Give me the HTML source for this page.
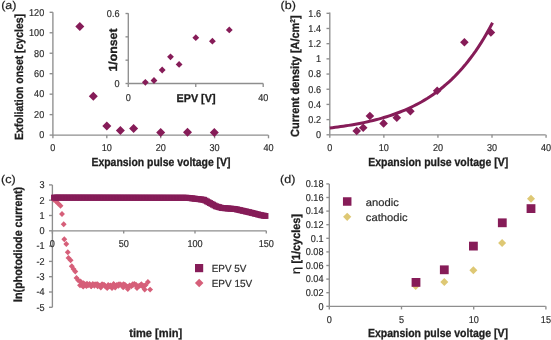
<!DOCTYPE html>
<html><head><meta charset="utf-8"><style>
html,body{margin:0;padding:0;background:#fff;}
svg{display:block;filter:blur(0.3px);font-family:"Liberation Sans",sans-serif;}
</style></head><body>
<svg width="551" height="340" viewBox="0 0 551 340" text-rendering="geometricPrecision">
<rect width="551" height="340" fill="#fff"/>
<text transform="translate(1.20,8.60) scale(1.1,1)" text-anchor="start" font-size="11.4" fill="#1e1e1e" font-weight="normal" stroke="#1e1e1e" stroke-width="0.2">(a)</text>
<line x1="52.90" y1="12.30" x2="52.90" y2="135.10" stroke="#8e8e8e" stroke-width="1.35"/>
<line x1="52.90" y1="135.10" x2="268.40" y2="135.10" stroke="#8e8e8e" stroke-width="1.35"/>
<line x1="49.60" y1="135.10" x2="52.90" y2="135.10" stroke="#8e8e8e" stroke-width="1.35"/>
<text transform="translate(44.20,138.40) scale(0.91,1)" text-anchor="end" font-size="10.0" fill="#2e2e2e" font-weight="normal" stroke="#2e2e2e" stroke-width="0.2">0</text>
<line x1="49.60" y1="114.63" x2="52.90" y2="114.63" stroke="#8e8e8e" stroke-width="1.35"/>
<text transform="translate(44.20,117.93) scale(0.91,1)" text-anchor="end" font-size="10.0" fill="#2e2e2e" font-weight="normal" stroke="#2e2e2e" stroke-width="0.2">20</text>
<line x1="49.60" y1="94.17" x2="52.90" y2="94.17" stroke="#8e8e8e" stroke-width="1.35"/>
<text transform="translate(44.20,97.47) scale(0.91,1)" text-anchor="end" font-size="10.0" fill="#2e2e2e" font-weight="normal" stroke="#2e2e2e" stroke-width="0.2">40</text>
<line x1="49.60" y1="73.70" x2="52.90" y2="73.70" stroke="#8e8e8e" stroke-width="1.35"/>
<text transform="translate(44.20,77.00) scale(0.91,1)" text-anchor="end" font-size="10.0" fill="#2e2e2e" font-weight="normal" stroke="#2e2e2e" stroke-width="0.2">60</text>
<line x1="49.60" y1="53.24" x2="52.90" y2="53.24" stroke="#8e8e8e" stroke-width="1.35"/>
<text transform="translate(44.20,56.54) scale(0.91,1)" text-anchor="end" font-size="10.0" fill="#2e2e2e" font-weight="normal" stroke="#2e2e2e" stroke-width="0.2">80</text>
<line x1="49.60" y1="32.77" x2="52.90" y2="32.77" stroke="#8e8e8e" stroke-width="1.35"/>
<text transform="translate(44.20,36.07) scale(0.91,1)" text-anchor="end" font-size="10.0" fill="#2e2e2e" font-weight="normal" stroke="#2e2e2e" stroke-width="0.2">100</text>
<line x1="49.60" y1="12.30" x2="52.90" y2="12.30" stroke="#8e8e8e" stroke-width="1.35"/>
<text transform="translate(44.20,15.60) scale(0.91,1)" text-anchor="end" font-size="10.0" fill="#2e2e2e" font-weight="normal" stroke="#2e2e2e" stroke-width="0.2">120</text>
<line x1="52.90" y1="135.10" x2="52.90" y2="138.30" stroke="#8e8e8e" stroke-width="1.35"/>
<text transform="translate(52.90,151.30) scale(0.91,1)" text-anchor="middle" font-size="10.0" fill="#2e2e2e" font-weight="normal" stroke="#2e2e2e" stroke-width="0.2">0</text>
<line x1="106.80" y1="135.10" x2="106.80" y2="138.30" stroke="#8e8e8e" stroke-width="1.35"/>
<text transform="translate(106.80,151.30) scale(0.91,1)" text-anchor="middle" font-size="10.0" fill="#2e2e2e" font-weight="normal" stroke="#2e2e2e" stroke-width="0.2">10</text>
<line x1="160.70" y1="135.10" x2="160.70" y2="138.30" stroke="#8e8e8e" stroke-width="1.35"/>
<text transform="translate(160.70,151.30) scale(0.91,1)" text-anchor="middle" font-size="10.0" fill="#2e2e2e" font-weight="normal" stroke="#2e2e2e" stroke-width="0.2">20</text>
<line x1="214.60" y1="135.10" x2="214.60" y2="138.30" stroke="#8e8e8e" stroke-width="1.35"/>
<text transform="translate(214.60,151.30) scale(0.91,1)" text-anchor="middle" font-size="10.0" fill="#2e2e2e" font-weight="normal" stroke="#2e2e2e" stroke-width="0.2">30</text>
<line x1="268.50" y1="135.10" x2="268.50" y2="138.30" stroke="#8e8e8e" stroke-width="1.35"/>
<text transform="translate(268.50,151.30) scale(0.91,1)" text-anchor="middle" font-size="10.0" fill="#2e2e2e" font-weight="normal" stroke="#2e2e2e" stroke-width="0.2">40</text>
<text x="161.00" y="165.60" text-anchor="middle" font-size="11.8" fill="#1e1e1e" font-weight="bold" textLength="139" lengthAdjust="spacingAndGlyphs" stroke="#1e1e1e" stroke-width="0.3">Expansion pulse voltage [V]</text>
<text transform="translate(22.80,77.00) rotate(-90)" x="0" y="0" text-anchor="middle" font-size="11.8" fill="#1e1e1e" font-weight="bold" stroke="#1e1e1e" stroke-width="0.3" textLength="126" lengthAdjust="spacingAndGlyphs">Exfoliation onset [cycles]</text>
<path d="M79.80 21.90L84.30 26.40L79.80 30.90L75.30 26.40Z" fill="#861c58"/>
<path d="M93.30 91.80L97.80 96.30L93.30 100.80L88.80 96.30Z" fill="#861c58"/>
<path d="M106.80 121.40L111.30 125.90L106.80 130.40L102.30 125.90Z" fill="#861c58"/>
<path d="M120.40 126.00L124.90 130.50L120.40 135.00L115.90 130.50Z" fill="#861c58"/>
<path d="M133.60 124.00L138.10 128.50L133.60 133.00L129.10 128.50Z" fill="#861c58"/>
<path d="M160.70 128.10L165.20 132.60L160.70 137.10L156.20 132.60Z" fill="#861c58"/>
<path d="M187.50 127.80L192.00 132.30L187.50 136.80L183.00 132.30Z" fill="#861c58"/>
<path d="M214.30 128.10L218.80 132.60L214.30 137.10L209.80 132.60Z" fill="#861c58"/>
<line x1="128.30" y1="13.30" x2="128.30" y2="83.50" stroke="#8e8e8e" stroke-width="1.35"/>
<line x1="128.30" y1="83.50" x2="263.20" y2="83.50" stroke="#8e8e8e" stroke-width="1.35"/>
<line x1="125.50" y1="83.50" x2="128.30" y2="83.50" stroke="#8e8e8e" stroke-width="1.35"/>
<line x1="125.50" y1="60.17" x2="128.30" y2="60.17" stroke="#8e8e8e" stroke-width="1.35"/>
<line x1="125.50" y1="36.84" x2="128.30" y2="36.84" stroke="#8e8e8e" stroke-width="1.35"/>
<line x1="125.50" y1="13.51" x2="128.30" y2="13.51" stroke="#8e8e8e" stroke-width="1.35"/>
<text transform="translate(119.50,86.80) scale(0.91,1)" text-anchor="end" font-size="10.0" fill="#2e2e2e" font-weight="normal" stroke="#2e2e2e" stroke-width="0.2">0</text>
<text transform="translate(119.50,16.80) scale(0.91,1)" text-anchor="end" font-size="10.0" fill="#2e2e2e" font-weight="normal" stroke="#2e2e2e" stroke-width="0.2">0.6</text>
<line x1="128.30" y1="83.50" x2="128.30" y2="87.00" stroke="#8e8e8e" stroke-width="1.35"/>
<line x1="195.75" y1="83.50" x2="195.75" y2="87.00" stroke="#8e8e8e" stroke-width="1.35"/>
<line x1="263.20" y1="83.50" x2="263.20" y2="87.00" stroke="#8e8e8e" stroke-width="1.35"/>
<text transform="translate(128.30,100.50) scale(0.91,1)" text-anchor="middle" font-size="10.0" fill="#2e2e2e" font-weight="normal" stroke="#2e2e2e" stroke-width="0.2">0</text>
<text transform="translate(263.20,100.50) scale(0.91,1)" text-anchor="middle" font-size="10.0" fill="#2e2e2e" font-weight="normal" stroke="#2e2e2e" stroke-width="0.2">40</text>
<text x="196.00" y="102.00" text-anchor="middle" font-size="11.2" fill="#1e1e1e" font-weight="bold" textLength="39" lengthAdjust="spacingAndGlyphs" stroke="#1e1e1e" stroke-width="0.3">EPV [V]</text>
<text transform="translate(117.30,50.00) rotate(-90)" x="0" y="0" text-anchor="middle" font-size="11.8" fill="#1e1e1e" font-weight="bold" stroke="#1e1e1e" stroke-width="0.3" textLength="43" lengthAdjust="spacingAndGlyphs">1/onset</text>
<path d="M145.35 78.90L148.75 82.30L145.35 85.70L141.95 82.30Z" fill="#861c58"/>
<path d="M154.00 77.10L157.40 80.50L154.00 83.90L150.60 80.50Z" fill="#861c58"/>
<path d="M162.20 66.60L165.60 70.00L162.20 73.40L158.80 70.00Z" fill="#861c58"/>
<path d="M170.50 53.40L173.90 56.80L170.50 60.20L167.10 56.80Z" fill="#861c58"/>
<path d="M179.10 61.00L182.50 64.40L179.10 67.80L175.70 64.40Z" fill="#861c58"/>
<path d="M195.80 34.30L199.20 37.70L195.80 41.10L192.40 37.70Z" fill="#861c58"/>
<path d="M212.40 37.80L215.80 41.20L212.40 44.60L209.00 41.20Z" fill="#861c58"/>
<path d="M229.30 26.50L232.70 29.90L229.30 33.30L225.90 29.90Z" fill="#861c58"/>
<text transform="translate(280.50,9.20) scale(1.1,1)" text-anchor="start" font-size="11.4" fill="#1e1e1e" font-weight="normal" stroke="#1e1e1e" stroke-width="0.2">(b)</text>
<line x1="329.80" y1="12.50" x2="329.80" y2="134.80" stroke="#8e8e8e" stroke-width="1.35"/>
<line x1="329.80" y1="134.80" x2="545.70" y2="134.80" stroke="#8e8e8e" stroke-width="1.35"/>
<line x1="326.50" y1="134.80" x2="329.80" y2="134.80" stroke="#8e8e8e" stroke-width="1.35"/>
<text transform="translate(321.00,138.10) scale(0.91,1)" text-anchor="end" font-size="10.0" fill="#2e2e2e" font-weight="normal" stroke="#2e2e2e" stroke-width="0.2">0</text>
<line x1="326.50" y1="119.61" x2="329.80" y2="119.61" stroke="#8e8e8e" stroke-width="1.35"/>
<text transform="translate(321.00,122.91) scale(0.91,1)" text-anchor="end" font-size="10.0" fill="#2e2e2e" font-weight="normal" stroke="#2e2e2e" stroke-width="0.2">0.2</text>
<line x1="326.50" y1="104.42" x2="329.80" y2="104.42" stroke="#8e8e8e" stroke-width="1.35"/>
<text transform="translate(321.00,107.72) scale(0.91,1)" text-anchor="end" font-size="10.0" fill="#2e2e2e" font-weight="normal" stroke="#2e2e2e" stroke-width="0.2">0.4</text>
<line x1="326.50" y1="89.24" x2="329.80" y2="89.24" stroke="#8e8e8e" stroke-width="1.35"/>
<text transform="translate(321.00,92.54) scale(0.91,1)" text-anchor="end" font-size="10.0" fill="#2e2e2e" font-weight="normal" stroke="#2e2e2e" stroke-width="0.2">0.6</text>
<line x1="326.50" y1="74.05" x2="329.80" y2="74.05" stroke="#8e8e8e" stroke-width="1.35"/>
<text transform="translate(321.00,77.35) scale(0.91,1)" text-anchor="end" font-size="10.0" fill="#2e2e2e" font-weight="normal" stroke="#2e2e2e" stroke-width="0.2">0.8</text>
<line x1="326.50" y1="58.86" x2="329.80" y2="58.86" stroke="#8e8e8e" stroke-width="1.35"/>
<text transform="translate(321.00,62.16) scale(0.91,1)" text-anchor="end" font-size="10.0" fill="#2e2e2e" font-weight="normal" stroke="#2e2e2e" stroke-width="0.2">1</text>
<line x1="326.50" y1="43.67" x2="329.80" y2="43.67" stroke="#8e8e8e" stroke-width="1.35"/>
<text transform="translate(321.00,46.97) scale(0.91,1)" text-anchor="end" font-size="10.0" fill="#2e2e2e" font-weight="normal" stroke="#2e2e2e" stroke-width="0.2">1.2</text>
<line x1="326.50" y1="28.48" x2="329.80" y2="28.48" stroke="#8e8e8e" stroke-width="1.35"/>
<text transform="translate(321.00,31.78) scale(0.91,1)" text-anchor="end" font-size="10.0" fill="#2e2e2e" font-weight="normal" stroke="#2e2e2e" stroke-width="0.2">1.4</text>
<line x1="326.50" y1="13.30" x2="329.80" y2="13.30" stroke="#8e8e8e" stroke-width="1.35"/>
<text transform="translate(321.00,16.60) scale(0.91,1)" text-anchor="end" font-size="10.0" fill="#2e2e2e" font-weight="normal" stroke="#2e2e2e" stroke-width="0.2">1.6</text>
<line x1="329.80" y1="134.80" x2="329.80" y2="137.70" stroke="#8e8e8e" stroke-width="1.35"/>
<text transform="translate(329.80,151.30) scale(0.91,1)" text-anchor="middle" font-size="10.0" fill="#2e2e2e" font-weight="normal" stroke="#2e2e2e" stroke-width="0.2">0</text>
<line x1="383.87" y1="134.80" x2="383.87" y2="137.70" stroke="#8e8e8e" stroke-width="1.35"/>
<text transform="translate(383.87,151.30) scale(0.91,1)" text-anchor="middle" font-size="10.0" fill="#2e2e2e" font-weight="normal" stroke="#2e2e2e" stroke-width="0.2">10</text>
<line x1="437.94" y1="134.80" x2="437.94" y2="137.70" stroke="#8e8e8e" stroke-width="1.35"/>
<text transform="translate(437.94,151.30) scale(0.91,1)" text-anchor="middle" font-size="10.0" fill="#2e2e2e" font-weight="normal" stroke="#2e2e2e" stroke-width="0.2">20</text>
<line x1="492.01" y1="134.80" x2="492.01" y2="137.70" stroke="#8e8e8e" stroke-width="1.35"/>
<text transform="translate(492.01,151.30) scale(0.91,1)" text-anchor="middle" font-size="10.0" fill="#2e2e2e" font-weight="normal" stroke="#2e2e2e" stroke-width="0.2">30</text>
<line x1="546.08" y1="134.80" x2="546.08" y2="137.70" stroke="#8e8e8e" stroke-width="1.35"/>
<text transform="translate(546.08,151.30) scale(0.91,1)" text-anchor="middle" font-size="10.0" fill="#2e2e2e" font-weight="normal" stroke="#2e2e2e" stroke-width="0.2">40</text>
<text x="438.20" y="166.10" text-anchor="middle" font-size="11.8" fill="#1e1e1e" font-weight="bold" textLength="140" lengthAdjust="spacingAndGlyphs" stroke="#1e1e1e" stroke-width="0.3">Expansion pulse voltage [V]</text>
<text transform="translate(298.90,76.20) rotate(-90)" x="0" y="0" text-anchor="middle" font-size="11.8" fill="#1e1e1e" font-weight="bold" stroke="#1e1e1e" stroke-width="0.3" textLength="121.5" lengthAdjust="spacingAndGlyphs">Current density [A/cm<tspan font-size="7" dy="-4">2</tspan><tspan dy="4">]</tspan></text>
<polyline points="329.80,128.00 332.50,127.68 335.21,127.34 337.91,126.98 340.61,126.61 343.32,126.22 346.02,125.81 348.72,125.38 351.43,124.93 354.13,124.46 356.84,123.97 359.54,123.45 362.24,122.91 364.95,122.35 367.65,121.75 370.35,121.13 373.06,120.48 375.76,119.80 378.46,119.08 381.17,118.33 383.87,117.55 386.57,116.73 389.28,115.86 391.98,114.96 394.68,114.02 397.39,113.03 400.09,111.99 402.79,110.90 405.50,109.76 408.20,108.57 410.91,107.32 413.61,106.01 416.31,104.64 419.02,103.20 421.72,101.70 424.42,100.12 427.13,98.47 429.83,96.74 432.53,94.92 435.24,93.02 437.94,91.03 440.64,88.95 443.35,86.76 446.05,84.47 448.75,82.07 451.46,79.56 454.16,76.93 456.86,74.17 459.57,71.28 462.27,68.26 464.98,65.08 467.68,61.76 470.38,58.28 473.09,54.64 475.79,50.82 478.49,46.81 481.20,42.62 483.90,38.23 486.60,33.63 489.31,28.81 492.01,23.76 492.55,22.72" fill="none" stroke="#861c58" stroke-width="3"/>
<path d="M356.70 126.70L361.00 131.00L356.70 135.30L352.40 131.00Z" fill="#861c58"/>
<path d="M363.20 123.40L367.50 127.70L363.20 132.00L358.90 127.70Z" fill="#861c58"/>
<path d="M369.90 111.70L374.20 116.00L369.90 120.30L365.60 116.00Z" fill="#861c58"/>
<path d="M383.60 119.10L387.90 123.40L383.60 127.70L379.30 123.40Z" fill="#861c58"/>
<path d="M396.80 113.50L401.10 117.80L396.80 122.10L392.50 117.80Z" fill="#861c58"/>
<path d="M410.40 106.90L414.70 111.20L410.40 115.50L406.10 111.20Z" fill="#861c58"/>
<path d="M437.20 86.40L441.50 90.70L437.20 95.00L432.90 90.70Z" fill="#861c58"/>
<path d="M464.40 38.00L468.70 42.30L464.40 46.60L460.10 42.30Z" fill="#861c58"/>
<path d="M490.90 28.20L495.20 32.50L490.90 36.80L486.60 32.50Z" fill="#861c58"/>
<text transform="translate(1.00,183.00) scale(1.1,1)" text-anchor="start" font-size="11.4" fill="#1e1e1e" font-weight="normal" stroke="#1e1e1e" stroke-width="0.2">(c)</text>
<line x1="52.40" y1="185.00" x2="52.40" y2="307.30" stroke="#8e8e8e" stroke-width="1.35"/>
<line x1="52.40" y1="230.80" x2="266.30" y2="230.80" stroke="#8e8e8e" stroke-width="1.35"/>
<line x1="49.00" y1="184.90" x2="52.40" y2="184.90" stroke="#8e8e8e" stroke-width="1.35"/>
<text transform="translate(44.50,188.20) scale(0.91,1)" text-anchor="end" font-size="10.0" fill="#2e2e2e" font-weight="normal" stroke="#2e2e2e" stroke-width="0.2">3</text>
<line x1="49.00" y1="200.20" x2="52.40" y2="200.20" stroke="#8e8e8e" stroke-width="1.35"/>
<text transform="translate(44.50,203.50) scale(0.91,1)" text-anchor="end" font-size="10.0" fill="#2e2e2e" font-weight="normal" stroke="#2e2e2e" stroke-width="0.2">2</text>
<line x1="49.00" y1="215.50" x2="52.40" y2="215.50" stroke="#8e8e8e" stroke-width="1.35"/>
<text transform="translate(44.50,218.80) scale(0.91,1)" text-anchor="end" font-size="10.0" fill="#2e2e2e" font-weight="normal" stroke="#2e2e2e" stroke-width="0.2">1</text>
<line x1="49.00" y1="230.80" x2="52.40" y2="230.80" stroke="#8e8e8e" stroke-width="1.35"/>
<text transform="translate(44.50,234.10) scale(0.91,1)" text-anchor="end" font-size="10.0" fill="#2e2e2e" font-weight="normal" stroke="#2e2e2e" stroke-width="0.2">0</text>
<line x1="49.00" y1="246.10" x2="52.40" y2="246.10" stroke="#8e8e8e" stroke-width="1.35"/>
<text transform="translate(44.50,249.40) scale(0.91,1)" text-anchor="end" font-size="10.0" fill="#2e2e2e" font-weight="normal" stroke="#2e2e2e" stroke-width="0.2">-1</text>
<line x1="49.00" y1="261.40" x2="52.40" y2="261.40" stroke="#8e8e8e" stroke-width="1.35"/>
<text transform="translate(44.50,264.70) scale(0.91,1)" text-anchor="end" font-size="10.0" fill="#2e2e2e" font-weight="normal" stroke="#2e2e2e" stroke-width="0.2">-2</text>
<line x1="49.00" y1="276.70" x2="52.40" y2="276.70" stroke="#8e8e8e" stroke-width="1.35"/>
<text transform="translate(44.50,280.00) scale(0.91,1)" text-anchor="end" font-size="10.0" fill="#2e2e2e" font-weight="normal" stroke="#2e2e2e" stroke-width="0.2">-3</text>
<line x1="49.00" y1="292.00" x2="52.40" y2="292.00" stroke="#8e8e8e" stroke-width="1.35"/>
<text transform="translate(44.50,295.30) scale(0.91,1)" text-anchor="end" font-size="10.0" fill="#2e2e2e" font-weight="normal" stroke="#2e2e2e" stroke-width="0.2">-4</text>
<line x1="49.00" y1="307.30" x2="52.40" y2="307.30" stroke="#8e8e8e" stroke-width="1.35"/>
<text transform="translate(44.50,310.60) scale(0.91,1)" text-anchor="end" font-size="10.0" fill="#2e2e2e" font-weight="normal" stroke="#2e2e2e" stroke-width="0.2">-5</text>
<line x1="52.40" y1="230.80" x2="52.40" y2="233.60" stroke="#8e8e8e" stroke-width="1.35"/>
<text transform="translate(52.40,247.00) scale(0.91,1)" text-anchor="middle" font-size="10.0" fill="#2e2e2e" font-weight="normal" stroke="#2e2e2e" stroke-width="0.2">0</text>
<line x1="123.70" y1="230.80" x2="123.70" y2="233.60" stroke="#8e8e8e" stroke-width="1.35"/>
<text transform="translate(123.70,247.00) scale(0.91,1)" text-anchor="middle" font-size="10.0" fill="#2e2e2e" font-weight="normal" stroke="#2e2e2e" stroke-width="0.2">50</text>
<line x1="195.00" y1="230.80" x2="195.00" y2="233.60" stroke="#8e8e8e" stroke-width="1.35"/>
<text transform="translate(195.00,247.00) scale(0.91,1)" text-anchor="middle" font-size="10.0" fill="#2e2e2e" font-weight="normal" stroke="#2e2e2e" stroke-width="0.2">100</text>
<line x1="266.30" y1="230.80" x2="266.30" y2="233.60" stroke="#8e8e8e" stroke-width="1.35"/>
<text transform="translate(266.30,247.00) scale(0.91,1)" text-anchor="middle" font-size="10.0" fill="#2e2e2e" font-weight="normal" stroke="#2e2e2e" stroke-width="0.2">150</text>
<text x="155.70" y="336.90" text-anchor="middle" font-size="11.8" fill="#1e1e1e" font-weight="bold" textLength="53" lengthAdjust="spacingAndGlyphs" stroke="#1e1e1e" stroke-width="0.3">time [min]</text>
<text transform="translate(22.40,244.40) rotate(-90)" x="0" y="0" text-anchor="middle" font-size="11.8" fill="#1e1e1e" font-weight="bold" stroke="#1e1e1e" stroke-width="0.3" textLength="115.2" lengthAdjust="spacingAndGlyphs">ln(photodiode current)</text>
<path d="M80.00 282.27L82.95 285.22L80.00 288.17L77.05 285.22Z" fill="#d65f79"/>
<path d="M81.60 281.51L84.55 284.46L81.60 287.41L78.65 284.46Z" fill="#d65f79"/>
<path d="M83.20 283.71L86.15 286.66L83.20 289.61L80.25 286.66Z" fill="#d65f79"/>
<path d="M84.80 281.17L87.75 284.12L84.80 287.07L81.85 284.12Z" fill="#d65f79"/>
<path d="M86.40 283.21L89.35 286.16L86.40 289.11L83.45 286.16Z" fill="#d65f79"/>
<path d="M88.00 282.46L90.95 285.41L88.00 288.36L85.05 285.41Z" fill="#d65f79"/>
<path d="M89.60 281.11L92.55 284.06L89.60 287.01L86.65 284.06Z" fill="#d65f79"/>
<path d="M91.20 283.08L94.15 286.03L91.20 288.98L88.25 286.03Z" fill="#d65f79"/>
<path d="M92.80 281.01L95.75 283.96L92.80 286.91L89.85 283.96Z" fill="#d65f79"/>
<path d="M94.40 282.76L97.35 285.71L94.40 288.66L91.45 285.71Z" fill="#d65f79"/>
<path d="M96.00 281.16L98.95 284.11L96.00 287.06L93.05 284.11Z" fill="#d65f79"/>
<path d="M97.60 281.25L100.55 284.20L97.60 287.15L94.65 284.20Z" fill="#d65f79"/>
<path d="M99.20 282.72L102.15 285.67L99.20 288.62L96.25 285.67Z" fill="#d65f79"/>
<path d="M100.80 284.49L103.75 287.44L100.80 290.39L97.85 287.44Z" fill="#d65f79"/>
<path d="M102.40 281.39L105.35 284.34L102.40 287.29L99.45 284.34Z" fill="#d65f79"/>
<path d="M104.00 281.83L106.95 284.78L104.00 287.73L101.05 284.78Z" fill="#d65f79"/>
<path d="M105.60 283.61L108.55 286.56L105.60 289.51L102.65 286.56Z" fill="#d65f79"/>
<path d="M107.20 285.02L110.15 287.97L107.20 290.92L104.25 287.97Z" fill="#d65f79"/>
<path d="M108.80 283.39L111.75 286.34L108.80 289.29L105.85 286.34Z" fill="#d65f79"/>
<path d="M110.40 282.60L113.35 285.55L110.40 288.50L107.45 285.55Z" fill="#d65f79"/>
<path d="M112.00 285.15L114.95 288.10L112.00 291.05L109.05 288.10Z" fill="#d65f79"/>
<path d="M113.60 281.05L116.55 284.00L113.60 286.95L110.65 284.00Z" fill="#d65f79"/>
<path d="M115.20 284.63L118.15 287.58L115.20 290.53L112.25 287.58Z" fill="#d65f79"/>
<path d="M116.80 282.12L119.75 285.07L116.80 288.02L113.85 285.07Z" fill="#d65f79"/>
<path d="M118.40 281.48L121.35 284.43L118.40 287.38L115.45 284.43Z" fill="#d65f79"/>
<path d="M120.00 281.37L122.95 284.32L120.00 287.27L117.05 284.32Z" fill="#d65f79"/>
<path d="M121.60 282.21L124.55 285.16L121.60 288.11L118.65 285.16Z" fill="#d65f79"/>
<path d="M123.20 284.44L126.15 287.39L123.20 290.34L120.25 287.39Z" fill="#d65f79"/>
<path d="M124.80 281.65L127.75 284.60L124.80 287.55L121.85 284.60Z" fill="#d65f79"/>
<path d="M126.40 283.41L129.35 286.36L126.40 289.31L123.45 286.36Z" fill="#d65f79"/>
<path d="M128.00 283.66L130.95 286.61L128.00 289.56L125.05 286.61Z" fill="#d65f79"/>
<path d="M129.60 282.49L132.55 285.44L129.60 288.39L126.65 285.44Z" fill="#d65f79"/>
<path d="M131.20 283.26L134.15 286.21L131.20 289.16L128.25 286.21Z" fill="#d65f79"/>
<path d="M132.80 281.13L135.75 284.08L132.80 287.03L129.85 284.08Z" fill="#d65f79"/>
<path d="M134.40 281.11L137.35 284.06L134.40 287.01L131.45 284.06Z" fill="#d65f79"/>
<path d="M136.00 281.76L138.95 284.71L136.00 287.66L133.05 284.71Z" fill="#d65f79"/>
<path d="M137.60 283.84L140.55 286.79L137.60 289.74L134.65 286.79Z" fill="#d65f79"/>
<path d="M139.20 282.73L142.15 285.68L139.20 288.63L136.25 285.68Z" fill="#d65f79"/>
<path d="M140.80 282.23L143.75 285.18L140.80 288.13L137.85 285.18Z" fill="#d65f79"/>
<path d="M142.40 283.43L145.35 286.38L142.40 289.33L139.45 286.38Z" fill="#d65f79"/>
<path d="M144.00 282.84L146.95 285.79L144.00 288.74L141.05 285.79Z" fill="#d65f79"/>
<path d="M145.60 282.17L148.55 285.12L145.60 288.07L142.65 285.12Z" fill="#d65f79"/>
<path d="M54.00 196.85L56.95 199.80L54.00 202.75L51.05 199.80Z" fill="#d65f79"/>
<path d="M56.00 198.35L58.95 201.30L56.00 204.25L53.05 201.30Z" fill="#d65f79"/>
<path d="M58.20 200.55L61.15 203.50L58.20 206.45L55.25 203.50Z" fill="#d65f79"/>
<path d="M60.50 202.85L63.45 205.80L60.50 208.75L57.55 205.80Z" fill="#d65f79"/>
<path d="M62.00 211.05L64.95 214.00L62.00 216.95L59.05 214.00Z" fill="#d65f79"/>
<path d="M63.70 221.35L66.65 224.30L63.70 227.25L60.75 224.30Z" fill="#d65f79"/>
<path d="M64.30 236.35L67.25 239.30L64.30 242.25L61.35 239.30Z" fill="#d65f79"/>
<path d="M66.30 241.05L69.25 244.00L66.30 246.95L63.35 244.00Z" fill="#d65f79"/>
<path d="M67.80 249.25L70.75 252.20L67.80 255.15L64.85 252.20Z" fill="#d65f79"/>
<path d="M68.50 254.95L71.45 257.90L68.50 260.85L65.55 257.90Z" fill="#d65f79"/>
<path d="M70.60 257.35L73.55 260.30L70.60 263.25L67.65 260.30Z" fill="#d65f79"/>
<path d="M71.80 263.25L74.75 266.20L71.80 269.15L68.85 266.20Z" fill="#d65f79"/>
<path d="M73.50 266.15L76.45 269.10L73.50 272.05L70.55 269.10Z" fill="#d65f79"/>
<path d="M75.30 268.55L78.25 271.50L75.30 274.45L72.35 271.50Z" fill="#d65f79"/>
<path d="M76.50 274.95L79.45 277.90L76.50 280.85L73.55 277.90Z" fill="#d65f79"/>
<path d="M78.20 277.35L81.15 280.30L78.20 283.25L75.25 280.30Z" fill="#d65f79"/>
<path d="M80.60 278.55L83.55 281.50L80.60 284.45L77.65 281.50Z" fill="#d65f79"/>
<path d="M83.50 280.25L86.45 283.20L83.50 286.15L80.55 283.20Z" fill="#d65f79"/>
<path d="M87.00 280.85L89.95 283.80L87.00 286.75L84.05 283.80Z" fill="#d65f79"/>
<path d="M91.20 283.25L94.15 286.20L91.20 289.15L88.25 286.20Z" fill="#d65f79"/>
<path d="M94.10 281.45L97.05 284.40L94.10 287.35L91.15 284.40Z" fill="#d65f79"/>
<path d="M97.60 283.25L100.55 286.20L97.60 289.15L94.65 286.20Z" fill="#d65f79"/>
<path d="M101.80 281.45L104.75 284.40L101.80 287.35L98.85 284.40Z" fill="#d65f79"/>
<path d="M104.70 282.65L107.65 285.60L104.70 288.55L101.75 285.60Z" fill="#d65f79"/>
<path d="M108.20 282.05L111.15 285.00L108.20 287.95L105.25 285.00Z" fill="#d65f79"/>
<path d="M109.80 283.35L112.75 286.30L109.80 289.25L106.85 286.30Z" fill="#d65f79"/>
<path d="M114.20 282.35L117.15 285.30L114.20 288.25L111.25 285.30Z" fill="#d65f79"/>
<path d="M118.50 282.85L121.45 285.80L118.50 288.75L115.55 285.80Z" fill="#d65f79"/>
<path d="M123.40 281.25L126.35 284.20L123.40 287.15L120.45 284.20Z" fill="#d65f79"/>
<path d="M127.80 286.15L130.75 289.10L127.80 292.05L124.85 289.10Z" fill="#d65f79"/>
<path d="M132.70 282.35L135.65 285.30L132.70 288.25L129.75 285.30Z" fill="#d65f79"/>
<path d="M137.00 285.05L139.95 288.00L137.00 290.95L134.05 288.00Z" fill="#d65f79"/>
<path d="M141.40 281.25L144.35 284.20L141.40 287.15L138.45 284.20Z" fill="#d65f79"/>
<path d="M144.70 286.65L147.65 289.60L144.70 292.55L141.75 289.60Z" fill="#d65f79"/>
<path d="M147.90 279.05L150.85 282.00L147.90 284.95L144.95 282.00Z" fill="#d65f79"/>
<path d="M150.10 286.65L153.05 289.60L150.10 292.55L147.15 289.60Z" fill="#d65f79"/>
<rect x="51.05" y="194.65" width="5.90" height="5.90" fill="#861c58"/>
<rect x="52.55" y="194.65" width="5.90" height="5.90" fill="#861c58"/>
<rect x="54.05" y="194.65" width="5.90" height="5.90" fill="#861c58"/>
<rect x="55.55" y="194.66" width="5.90" height="5.90" fill="#861c58"/>
<rect x="57.05" y="194.66" width="5.90" height="5.90" fill="#861c58"/>
<rect x="58.55" y="194.66" width="5.90" height="5.90" fill="#861c58"/>
<rect x="60.05" y="194.66" width="5.90" height="5.90" fill="#861c58"/>
<rect x="61.55" y="194.66" width="5.90" height="5.90" fill="#861c58"/>
<rect x="63.05" y="194.66" width="5.90" height="5.90" fill="#861c58"/>
<rect x="64.55" y="194.67" width="5.90" height="5.90" fill="#861c58"/>
<rect x="66.05" y="194.67" width="5.90" height="5.90" fill="#861c58"/>
<rect x="67.55" y="194.67" width="5.90" height="5.90" fill="#861c58"/>
<rect x="69.05" y="194.67" width="5.90" height="5.90" fill="#861c58"/>
<rect x="70.55" y="194.67" width="5.90" height="5.90" fill="#861c58"/>
<rect x="72.05" y="194.67" width="5.90" height="5.90" fill="#861c58"/>
<rect x="73.55" y="194.68" width="5.90" height="5.90" fill="#861c58"/>
<rect x="75.05" y="194.68" width="5.90" height="5.90" fill="#861c58"/>
<rect x="76.55" y="194.68" width="5.90" height="5.90" fill="#861c58"/>
<rect x="78.05" y="194.68" width="5.90" height="5.90" fill="#861c58"/>
<rect x="79.55" y="194.68" width="5.90" height="5.90" fill="#861c58"/>
<rect x="81.05" y="194.68" width="5.90" height="5.90" fill="#861c58"/>
<rect x="82.55" y="194.69" width="5.90" height="5.90" fill="#861c58"/>
<rect x="84.05" y="194.69" width="5.90" height="5.90" fill="#861c58"/>
<rect x="85.55" y="194.69" width="5.90" height="5.90" fill="#861c58"/>
<rect x="87.05" y="194.69" width="5.90" height="5.90" fill="#861c58"/>
<rect x="88.55" y="194.69" width="5.90" height="5.90" fill="#861c58"/>
<rect x="90.05" y="194.69" width="5.90" height="5.90" fill="#861c58"/>
<rect x="91.55" y="194.70" width="5.90" height="5.90" fill="#861c58"/>
<rect x="93.05" y="194.70" width="5.90" height="5.90" fill="#861c58"/>
<rect x="94.55" y="194.70" width="5.90" height="5.90" fill="#861c58"/>
<rect x="96.05" y="194.70" width="5.90" height="5.90" fill="#861c58"/>
<rect x="97.55" y="194.70" width="5.90" height="5.90" fill="#861c58"/>
<rect x="99.05" y="194.70" width="5.90" height="5.90" fill="#861c58"/>
<rect x="100.55" y="194.71" width="5.90" height="5.90" fill="#861c58"/>
<rect x="102.05" y="194.71" width="5.90" height="5.90" fill="#861c58"/>
<rect x="103.55" y="194.71" width="5.90" height="5.90" fill="#861c58"/>
<rect x="105.05" y="194.71" width="5.90" height="5.90" fill="#861c58"/>
<rect x="106.55" y="194.71" width="5.90" height="5.90" fill="#861c58"/>
<rect x="108.05" y="194.71" width="5.90" height="5.90" fill="#861c58"/>
<rect x="109.55" y="194.72" width="5.90" height="5.90" fill="#861c58"/>
<rect x="111.05" y="194.72" width="5.90" height="5.90" fill="#861c58"/>
<rect x="112.55" y="194.72" width="5.90" height="5.90" fill="#861c58"/>
<rect x="114.05" y="194.72" width="5.90" height="5.90" fill="#861c58"/>
<rect x="115.55" y="194.72" width="5.90" height="5.90" fill="#861c58"/>
<rect x="117.05" y="194.72" width="5.90" height="5.90" fill="#861c58"/>
<rect x="118.55" y="194.73" width="5.90" height="5.90" fill="#861c58"/>
<rect x="120.05" y="194.73" width="5.90" height="5.90" fill="#861c58"/>
<rect x="121.55" y="194.73" width="5.90" height="5.90" fill="#861c58"/>
<rect x="123.05" y="194.73" width="5.90" height="5.90" fill="#861c58"/>
<rect x="124.55" y="194.73" width="5.90" height="5.90" fill="#861c58"/>
<rect x="126.05" y="194.73" width="5.90" height="5.90" fill="#861c58"/>
<rect x="127.55" y="194.74" width="5.90" height="5.90" fill="#861c58"/>
<rect x="129.05" y="194.74" width="5.90" height="5.90" fill="#861c58"/>
<rect x="130.55" y="194.74" width="5.90" height="5.90" fill="#861c58"/>
<rect x="132.05" y="194.74" width="5.90" height="5.90" fill="#861c58"/>
<rect x="133.55" y="194.74" width="5.90" height="5.90" fill="#861c58"/>
<rect x="135.05" y="194.74" width="5.90" height="5.90" fill="#861c58"/>
<rect x="136.55" y="194.75" width="5.90" height="5.90" fill="#861c58"/>
<rect x="138.05" y="194.75" width="5.90" height="5.90" fill="#861c58"/>
<rect x="139.55" y="194.75" width="5.90" height="5.90" fill="#861c58"/>
<rect x="141.05" y="194.75" width="5.90" height="5.90" fill="#861c58"/>
<rect x="142.55" y="194.75" width="5.90" height="5.90" fill="#861c58"/>
<rect x="144.05" y="194.75" width="5.90" height="5.90" fill="#861c58"/>
<rect x="145.55" y="194.76" width="5.90" height="5.90" fill="#861c58"/>
<rect x="147.05" y="194.76" width="5.90" height="5.90" fill="#861c58"/>
<rect x="148.55" y="194.76" width="5.90" height="5.90" fill="#861c58"/>
<rect x="150.05" y="194.76" width="5.90" height="5.90" fill="#861c58"/>
<rect x="151.55" y="194.76" width="5.90" height="5.90" fill="#861c58"/>
<rect x="153.05" y="194.77" width="5.90" height="5.90" fill="#861c58"/>
<rect x="154.55" y="194.77" width="5.90" height="5.90" fill="#861c58"/>
<rect x="156.05" y="194.77" width="5.90" height="5.90" fill="#861c58"/>
<rect x="157.55" y="194.77" width="5.90" height="5.90" fill="#861c58"/>
<rect x="159.05" y="194.77" width="5.90" height="5.90" fill="#861c58"/>
<rect x="160.55" y="194.77" width="5.90" height="5.90" fill="#861c58"/>
<rect x="162.05" y="194.78" width="5.90" height="5.90" fill="#861c58"/>
<rect x="163.55" y="194.78" width="5.90" height="5.90" fill="#861c58"/>
<rect x="165.05" y="194.78" width="5.90" height="5.90" fill="#861c58"/>
<rect x="166.55" y="194.78" width="5.90" height="5.90" fill="#861c58"/>
<rect x="168.05" y="194.78" width="5.90" height="5.90" fill="#861c58"/>
<rect x="169.55" y="194.78" width="5.90" height="5.90" fill="#861c58"/>
<rect x="171.05" y="194.79" width="5.90" height="5.90" fill="#861c58"/>
<rect x="172.55" y="194.79" width="5.90" height="5.90" fill="#861c58"/>
<rect x="174.05" y="194.79" width="5.90" height="5.90" fill="#861c58"/>
<rect x="175.55" y="194.79" width="5.90" height="5.90" fill="#861c58"/>
<rect x="177.05" y="194.79" width="5.90" height="5.90" fill="#861c58"/>
<rect x="178.55" y="194.79" width="5.90" height="5.90" fill="#861c58"/>
<rect x="180.05" y="194.80" width="5.90" height="5.90" fill="#861c58"/>
<rect x="181.55" y="194.80" width="5.90" height="5.90" fill="#861c58"/>
<rect x="183.05" y="194.80" width="5.90" height="5.90" fill="#861c58"/>
<rect x="184.55" y="194.86" width="5.90" height="5.90" fill="#861c58"/>
<rect x="186.05" y="195.04" width="5.90" height="5.90" fill="#861c58"/>
<rect x="187.55" y="195.22" width="5.90" height="5.90" fill="#861c58"/>
<rect x="189.05" y="195.40" width="5.90" height="5.90" fill="#861c58"/>
<rect x="190.55" y="195.58" width="5.90" height="5.90" fill="#861c58"/>
<rect x="192.05" y="195.76" width="5.90" height="5.90" fill="#861c58"/>
<rect x="193.55" y="195.95" width="5.90" height="5.90" fill="#861c58"/>
<rect x="195.05" y="196.13" width="5.90" height="5.90" fill="#861c58"/>
<rect x="196.55" y="196.31" width="5.90" height="5.90" fill="#861c58"/>
<rect x="198.05" y="196.49" width="5.90" height="5.90" fill="#861c58"/>
<rect x="199.55" y="196.67" width="5.90" height="5.90" fill="#861c58"/>
<rect x="201.05" y="196.85" width="5.90" height="5.90" fill="#861c58"/>
<rect x="202.55" y="197.66" width="5.90" height="5.90" fill="#861c58"/>
<rect x="204.05" y="198.47" width="5.90" height="5.90" fill="#861c58"/>
<rect x="205.55" y="199.28" width="5.90" height="5.90" fill="#861c58"/>
<rect x="207.05" y="200.09" width="5.90" height="5.90" fill="#861c58"/>
<rect x="208.55" y="200.91" width="5.90" height="5.90" fill="#861c58"/>
<rect x="210.05" y="201.72" width="5.90" height="5.90" fill="#861c58"/>
<rect x="211.55" y="202.54" width="5.90" height="5.90" fill="#861c58"/>
<rect x="213.05" y="203.35" width="5.90" height="5.90" fill="#861c58"/>
<rect x="214.55" y="203.78" width="5.90" height="5.90" fill="#861c58"/>
<rect x="216.05" y="204.20" width="5.90" height="5.90" fill="#861c58"/>
<rect x="217.55" y="204.62" width="5.90" height="5.90" fill="#861c58"/>
<rect x="219.05" y="205.05" width="5.90" height="5.90" fill="#861c58"/>
<rect x="220.55" y="205.17" width="5.90" height="5.90" fill="#861c58"/>
<rect x="222.05" y="205.28" width="5.90" height="5.90" fill="#861c58"/>
<rect x="223.55" y="205.40" width="5.90" height="5.90" fill="#861c58"/>
<rect x="225.05" y="205.51" width="5.90" height="5.90" fill="#861c58"/>
<rect x="226.55" y="205.63" width="5.90" height="5.90" fill="#861c58"/>
<rect x="228.05" y="205.74" width="5.90" height="5.90" fill="#861c58"/>
<rect x="229.55" y="205.86" width="5.90" height="5.90" fill="#861c58"/>
<rect x="231.05" y="205.97" width="5.90" height="5.90" fill="#861c58"/>
<rect x="232.55" y="206.16" width="5.90" height="5.90" fill="#861c58"/>
<rect x="234.05" y="206.50" width="5.90" height="5.90" fill="#861c58"/>
<rect x="235.55" y="206.84" width="5.90" height="5.90" fill="#861c58"/>
<rect x="237.05" y="207.18" width="5.90" height="5.90" fill="#861c58"/>
<rect x="238.55" y="207.52" width="5.90" height="5.90" fill="#861c58"/>
<rect x="240.05" y="207.86" width="5.90" height="5.90" fill="#861c58"/>
<rect x="241.55" y="208.20" width="5.90" height="5.90" fill="#861c58"/>
<rect x="243.05" y="208.54" width="5.90" height="5.90" fill="#861c58"/>
<rect x="244.55" y="208.88" width="5.90" height="5.90" fill="#861c58"/>
<rect x="246.05" y="209.22" width="5.90" height="5.90" fill="#861c58"/>
<rect x="247.55" y="209.58" width="5.90" height="5.90" fill="#861c58"/>
<rect x="249.05" y="209.96" width="5.90" height="5.90" fill="#861c58"/>
<rect x="250.55" y="210.34" width="5.90" height="5.90" fill="#861c58"/>
<rect x="252.05" y="210.72" width="5.90" height="5.90" fill="#861c58"/>
<rect x="253.55" y="211.10" width="5.90" height="5.90" fill="#861c58"/>
<rect x="255.05" y="211.49" width="5.90" height="5.90" fill="#861c58"/>
<rect x="256.55" y="211.87" width="5.90" height="5.90" fill="#861c58"/>
<rect x="258.05" y="212.25" width="5.90" height="5.90" fill="#861c58"/>
<rect x="259.55" y="212.51" width="5.90" height="5.90" fill="#861c58"/>
<rect x="261.05" y="212.76" width="5.90" height="5.90" fill="#861c58"/>
<rect x="262.55" y="213.02" width="5.90" height="5.90" fill="#861c58"/>
<rect x="195.00" y="264.00" width="8.20" height="8.20" fill="#861c58"/>
<path d="M199.20 278.65L203.45 282.90L199.20 287.15L194.95 282.90Z" fill="#d65f79"/>
<text x="211.70" y="272.20" text-anchor="start" font-size="10.3" fill="#2e2e2e" font-weight="normal" textLength="34.8" lengthAdjust="spacingAndGlyphs" stroke="#2e2e2e" stroke-width="0.2">EPV 5V</text>
<text x="211.70" y="287.20" text-anchor="start" font-size="10.3" fill="#2e2e2e" font-weight="normal" textLength="40.6" lengthAdjust="spacingAndGlyphs" stroke="#2e2e2e" stroke-width="0.2">EPV 15V</text>
<text transform="translate(280.10,183.00) scale(1.1,1)" text-anchor="start" font-size="11.4" fill="#1e1e1e" font-weight="normal" stroke="#1e1e1e" stroke-width="0.2">(d)</text>
<line x1="329.30" y1="184.00" x2="329.30" y2="306.30" stroke="#8e8e8e" stroke-width="1.35"/>
<line x1="329.30" y1="306.30" x2="545.70" y2="306.30" stroke="#8e8e8e" stroke-width="1.35"/>
<line x1="326.30" y1="306.30" x2="329.30" y2="306.30" stroke="#8e8e8e" stroke-width="1.35"/>
<text transform="translate(323.50,309.60) scale(0.91,1)" text-anchor="end" font-size="10.0" fill="#2e2e2e" font-weight="normal" stroke="#2e2e2e" stroke-width="0.2">0</text>
<line x1="326.30" y1="292.70" x2="329.30" y2="292.70" stroke="#8e8e8e" stroke-width="1.35"/>
<text transform="translate(323.50,296.00) scale(0.91,1)" text-anchor="end" font-size="10.0" fill="#2e2e2e" font-weight="normal" stroke="#2e2e2e" stroke-width="0.2">0.02</text>
<line x1="326.30" y1="279.10" x2="329.30" y2="279.10" stroke="#8e8e8e" stroke-width="1.35"/>
<text transform="translate(323.50,282.40) scale(0.91,1)" text-anchor="end" font-size="10.0" fill="#2e2e2e" font-weight="normal" stroke="#2e2e2e" stroke-width="0.2">0.04</text>
<line x1="326.30" y1="265.50" x2="329.30" y2="265.50" stroke="#8e8e8e" stroke-width="1.35"/>
<text transform="translate(323.50,268.80) scale(0.91,1)" text-anchor="end" font-size="10.0" fill="#2e2e2e" font-weight="normal" stroke="#2e2e2e" stroke-width="0.2">0.06</text>
<line x1="326.30" y1="251.90" x2="329.30" y2="251.90" stroke="#8e8e8e" stroke-width="1.35"/>
<text transform="translate(323.50,255.20) scale(0.91,1)" text-anchor="end" font-size="10.0" fill="#2e2e2e" font-weight="normal" stroke="#2e2e2e" stroke-width="0.2">0.08</text>
<line x1="326.30" y1="238.30" x2="329.30" y2="238.30" stroke="#8e8e8e" stroke-width="1.35"/>
<text transform="translate(323.50,241.60) scale(0.91,1)" text-anchor="end" font-size="10.0" fill="#2e2e2e" font-weight="normal" stroke="#2e2e2e" stroke-width="0.2">0.1</text>
<line x1="326.30" y1="224.70" x2="329.30" y2="224.70" stroke="#8e8e8e" stroke-width="1.35"/>
<text transform="translate(323.50,228.00) scale(0.91,1)" text-anchor="end" font-size="10.0" fill="#2e2e2e" font-weight="normal" stroke="#2e2e2e" stroke-width="0.2">0.12</text>
<line x1="326.30" y1="211.10" x2="329.30" y2="211.10" stroke="#8e8e8e" stroke-width="1.35"/>
<text transform="translate(323.50,214.40) scale(0.91,1)" text-anchor="end" font-size="10.0" fill="#2e2e2e" font-weight="normal" stroke="#2e2e2e" stroke-width="0.2">0.14</text>
<line x1="326.30" y1="197.50" x2="329.30" y2="197.50" stroke="#8e8e8e" stroke-width="1.35"/>
<text transform="translate(323.50,200.80) scale(0.91,1)" text-anchor="end" font-size="10.0" fill="#2e2e2e" font-weight="normal" stroke="#2e2e2e" stroke-width="0.2">0.16</text>
<line x1="326.30" y1="183.90" x2="329.30" y2="183.90" stroke="#8e8e8e" stroke-width="1.35"/>
<text transform="translate(323.50,187.20) scale(0.91,1)" text-anchor="end" font-size="10.0" fill="#2e2e2e" font-weight="normal" stroke="#2e2e2e" stroke-width="0.2">0.18</text>
<line x1="329.30" y1="306.30" x2="329.30" y2="309.40" stroke="#8e8e8e" stroke-width="1.35"/>
<text transform="translate(329.30,322.80) scale(0.91,1)" text-anchor="middle" font-size="10.0" fill="#2e2e2e" font-weight="normal" stroke="#2e2e2e" stroke-width="0.2">0</text>
<line x1="401.50" y1="306.30" x2="401.50" y2="309.40" stroke="#8e8e8e" stroke-width="1.35"/>
<text transform="translate(401.50,322.80) scale(0.91,1)" text-anchor="middle" font-size="10.0" fill="#2e2e2e" font-weight="normal" stroke="#2e2e2e" stroke-width="0.2">5</text>
<line x1="473.70" y1="306.30" x2="473.70" y2="309.40" stroke="#8e8e8e" stroke-width="1.35"/>
<text transform="translate(473.70,322.80) scale(0.91,1)" text-anchor="middle" font-size="10.0" fill="#2e2e2e" font-weight="normal" stroke="#2e2e2e" stroke-width="0.2">10</text>
<line x1="545.90" y1="306.30" x2="545.90" y2="309.40" stroke="#8e8e8e" stroke-width="1.35"/>
<text transform="translate(545.90,322.80) scale(0.91,1)" text-anchor="middle" font-size="10.0" fill="#2e2e2e" font-weight="normal" stroke="#2e2e2e" stroke-width="0.2">15</text>
<text x="437.90" y="337.20" text-anchor="middle" font-size="11.8" fill="#1e1e1e" font-weight="bold" textLength="140" lengthAdjust="spacingAndGlyphs" stroke="#1e1e1e" stroke-width="0.3">Expansion pulse voltage [V]</text>
<text transform="translate(299.90,238.85) rotate(-90)" x="0" y="0" text-anchor="middle" font-size="11.8" fill="#1e1e1e" font-weight="bold" stroke="#1e1e1e" stroke-width="0.3" textLength="49.5" lengthAdjust="spacingAndGlyphs">[1/cycles]</text>
<text transform="translate(299.9,270.6) rotate(-90)" text-anchor="middle" font-size="12.5" fill="#1e1e1e" stroke="#1e1e1e" stroke-width="0.15">η</text>
<path d="M415.70 281.90L419.70 285.90L415.70 289.90L411.70 285.90Z" fill="#dec874"/>
<path d="M444.30 278.10L448.30 282.10L444.30 286.10L440.30 282.10Z" fill="#dec874"/>
<path d="M473.40 266.20L477.40 270.20L473.40 274.20L469.40 270.20Z" fill="#dec874"/>
<path d="M502.10 239.10L506.10 243.10L502.10 247.10L498.10 243.10Z" fill="#dec874"/>
<path d="M531.00 194.70L535.00 198.70L531.00 202.70L527.00 198.70Z" fill="#dec874"/>
<rect x="411.60" y="278.00" width="8.80" height="8.80" fill="#861c58"/>
<rect x="439.90" y="265.40" width="8.80" height="8.80" fill="#861c58"/>
<rect x="469.00" y="241.70" width="8.80" height="8.80" fill="#861c58"/>
<rect x="497.90" y="218.40" width="8.80" height="8.80" fill="#861c58"/>
<rect x="526.60" y="204.20" width="8.80" height="8.80" fill="#861c58"/>
<rect x="342.95" y="197.25" width="8.50" height="8.50" fill="#861c58"/>
<path d="M347.20 212.70L351.30 216.80L347.20 220.90L343.10 216.80Z" fill="#dec874"/>
<text x="365.80" y="205.70" text-anchor="start" font-size="10.6" fill="#2e2e2e" font-weight="normal" textLength="33.1" lengthAdjust="spacingAndGlyphs" stroke="#2e2e2e" stroke-width="0.2">anodic</text>
<text x="365.80" y="221.20" text-anchor="start" font-size="10.6" fill="#2e2e2e" font-weight="normal" textLength="41.8" lengthAdjust="spacingAndGlyphs" stroke="#2e2e2e" stroke-width="0.2">cathodic</text>
</svg>
</body></html>
